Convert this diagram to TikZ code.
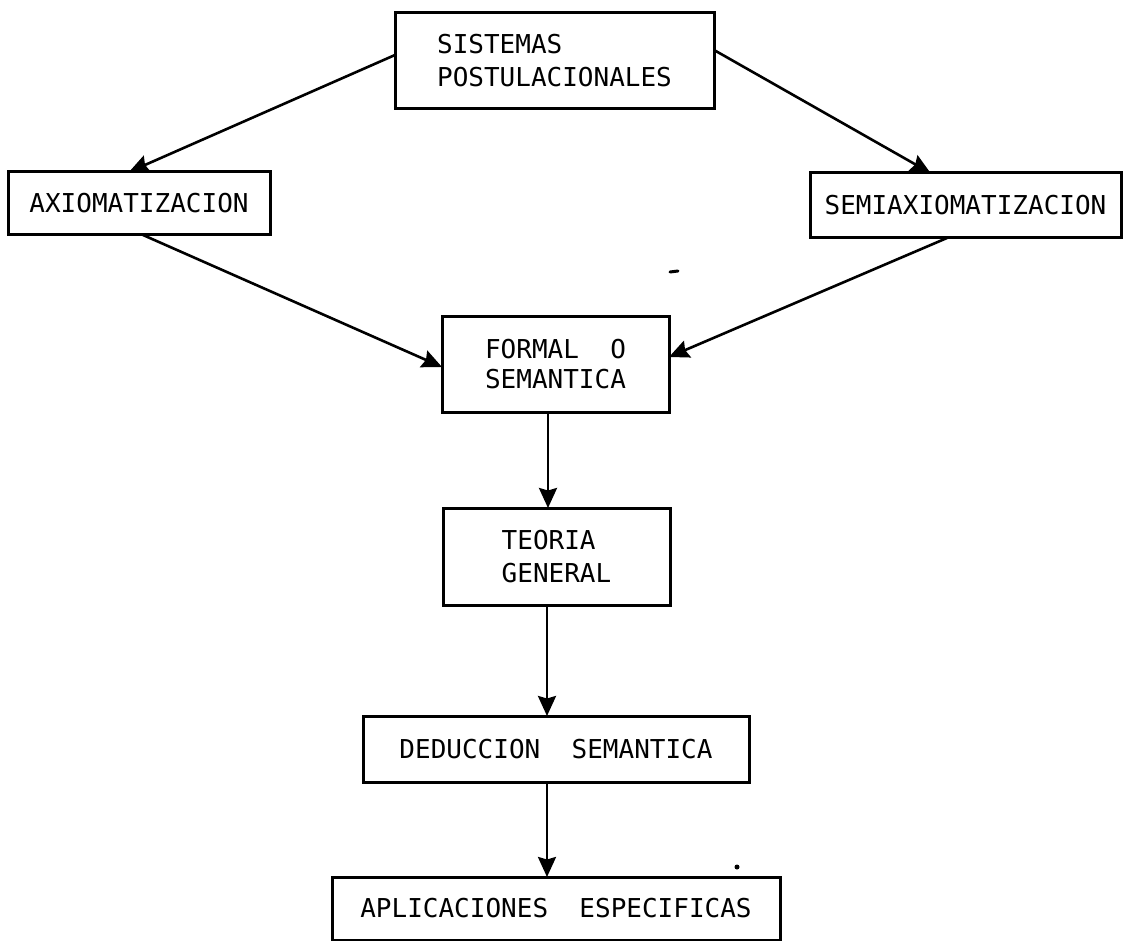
\documentclass[tikz,border=0pt]{standalone}
\usepackage{fontspec}
\setmonofont{DejaVu Sans Mono}
\usetikzlibrary{arrows.meta}

\begin{document}
\begin{tikzpicture}[x=1pt,y=-1pt,
  box/.style={draw, line width=3pt, rectangle, inner sep=0pt, outer sep=0pt,
    align=left, font=\ttfamily\fontsize{26}{33}\selectfont},
  flow/.style={line width=2.6pt, -{Stealth[length=20pt,width=18pt,inset=2.5pt]}},
  speck/.style={fill=black, draw=none}
]
  \useasboundingbox (0,0) rectangle (1125,941);

  % boxes
  \node[box, minimum width=319pt, minimum height=96pt] (sis) at (554.5,61)
    {SISTEMAS\\POSTULACIONALES};
  \node[box, minimum width=262pt, minimum height=63pt] (axi) at (139,203.5)
    {AXIOMATIZACION};
  \node[box, minimum width=311pt, minimum height=65pt] (semi) at (965.5,205.5)
    {SEMIAXIOMATIZACION};
  \node[box, minimum width=227pt, minimum height=95pt,
        font=\ttfamily\fontsize{26}{30}\selectfont] (formal) at (555.5,364.5)
    {FORMAL~~O\\SEMANTICA};
  \node[box, minimum width=227pt, minimum height=97pt] (teoria) at (556.5,556.5)
    {TEORIA\\GENERAL};
  \node[box, minimum width=386pt, minimum height=66pt] (ded) at (556,749)
    {DEDUCCION~~SEMANTICA};
  \node[box, minimum width=448pt, minimum height=63pt] (apl) at (556,908.5)
    {APLICACIONES~~ESPECIFICAS};

  % connectors
  \draw[flow] ([yshift=6pt]sis.west) -- ([xshift=-10pt]axi.north);
  \draw[flow] ([yshift=11pt]sis.east) -- ([xshift=-35pt]semi.north);
  \draw[flow] ([xshift=4pt]axi.south) -- ([yshift=-2.5pt]formal.west);
  \draw[flow] ([xshift=-18.5pt]semi.south) -- ([yshift=7.5pt]formal.east);
  \draw[flow] ([xshift=-7.5pt]formal.south) -- ([xshift=-8.5pt]teoria.north);
  \draw[flow] ([xshift=-9.5pt]teoria.south) -- ([xshift=-9pt]ded.north);
  \draw[flow] ([xshift=-9pt]ded.south) -- ([xshift=-9pt]apl.north);

  % small ink marks
  \draw[line width=3pt, line cap=round] (670,272) -- (678,271);
  \fill[speck] (737,867) circle (2.5pt);
\end{tikzpicture}
\end{document}
